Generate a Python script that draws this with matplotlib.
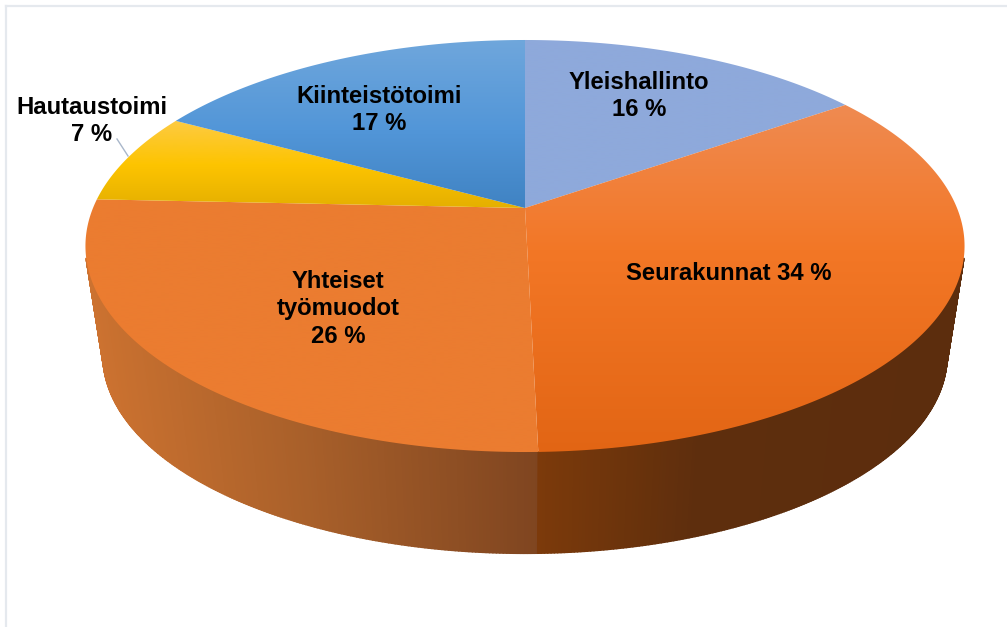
import numpy as np
import matplotlib
matplotlib.use('Agg')
import matplotlib.pyplot as plt
from matplotlib.collections import PolyCollection
from matplotlib.patches import Polygon

plt.rcParams['font.family'] = ['Liberation Sans', 'DejaVu Sans']

# data, clockwise from 12 o'clock
categories = ['Yleishallinto', 'Seurakunnat', 'Yhteiset\ntyömuodot', 'Hautaustoimi', 'Kiinteistötoimi']
values = [15.3, 34.3, 26.1, 7.2, 17.1]
percent_labels = ['16 %', '34 %', '26 %', '7 %', '17 %']

# vertical gradients of the top face: (y pixel, colour)
top_stops = [
    [(40, '#8ea9db'), (210, '#8ea9db')],
    [(105, '#ef8b52'), (250, '#f37726'), (452, '#e26514')],
    [(199, '#eb7c30'), (452, '#eb7c30')],
    [(122, '#fdcb45'), (165, '#fdc400'), (208, '#e3ae00')],
    [(40, '#70a7dc'), (130, '#5296d8'), (208, '#3f82c2')],
]
# horizontal gradients of the side wall: (x pixel, colour)
side_stops = {
    2: [(88, '#cc7230'), (300, '#a9602a'), (538, '#7f4520')],
    1: [(538, '#7c3a0b'), (700, '#5e2e0d'), (965, '#5c2d0d')],
}

cx, top_y, bottom_y = 525, 208, 319
scale_x, scale_y, persp = 432, 199, 0.1845
bottom_scale = 0.96
# only this part of the rim has a visible wall below it
front_from, front_to = np.radians(104), np.radians(256)


def project(theta, r=1.0, s=1.0, y0=top_y):
    u = r * np.sin(theta)
    v = r * np.cos(theta)
    w = 1 + persp * v
    return np.column_stack([cx + s * scale_x * u / w, y0 - s * scale_y * v / w])


def gradient(stops):
    pos = [p for p, c in stops]
    cols = np.array([matplotlib.colors.to_rgb(c) for p, c in stops])
    t = np.linspace(pos[0], pos[-1], 256)
    img = np.stack([np.interp(t, pos, cols[:, i]) for i in range(3)], axis=-1)
    return img[:, np.newaxis, :], pos[0], pos[-1]


fig = plt.figure(figsize=(10.07, 6.27), dpi=100)
ax = fig.add_axes([0, 0, 1, 1])
ax.axis('off')

edges = np.concatenate([[0], np.cumsum(values)]) / np.sum(values) * 2 * np.pi

# side wall, thin strips so the outline follows the tangent between both rims
for i, stops in side_stops.items():
    th = np.linspace(max(edges[i], front_from), min(edges[i + 1], front_to), 200)
    upper = project(th)
    lower = project(th, s=bottom_scale, y0=bottom_y)
    quads = [[upper[j], upper[j + 1], lower[j + 1], lower[j]] for j in range(len(th) - 1)]
    pos = [p for p, c in stops]
    cols = np.array([matplotlib.colors.to_rgb(c) for p, c in stops])
    mid_x = (upper[:-1, 0] + upper[1:, 0]) / 2
    rgb = np.stack([np.interp(mid_x, pos, cols[:, k]) for k in range(3)], axis=-1)
    ax.add_collection(PolyCollection(quads, facecolors=rgb, edgecolors=rgb, linewidths=1.2, zorder=1))

# top face
for i, stops in enumerate(top_stops):
    th = np.linspace(edges[i], edges[i + 1], 200)
    poly = np.vstack([project(np.array([0.0]), r=0.0), project(th)])
    img, a, b = gradient(stops)
    im = ax.imshow(img, extent=(0, 1007, b + 3, a - 3), aspect='auto', interpolation='bilinear', zorder=2)
    patch = Polygon(poly, closed=True, transform=ax.transData, fc='none', ec='none')
    ax.add_patch(patch)
    im.set_clip_path(patch)

# chart frame, only top and left are visible
ax.plot([6, 1007], [6, 6], color='#e5e9ee', lw=1.6, zorder=3)
ax.plot([6, 6], [6, 627], color='#e5e9ee', lw=1.6, zorder=3)

# leader line
ax.plot([117, 128], [139, 156], color='#a9b7ca', lw=1, zorder=3)

label_pos = [(639, 96), (729, 274), (338, 309), (92, 121), (379, 110)]
for i in range(len(categories)):
    sep = ' ' if i == 1 else '\n'
    ax.text(label_pos[i][0], label_pos[i][1], categories[i] + sep + percent_labels[i],
            ha='center', va='center', ma='center', fontsize=17.2, fontweight='bold',
            color='black', linespacing=1.277, zorder=4)

ax.set_xlim(0, 1007)
ax.set_ylim(627, 0)
fig.savefig('out.png', dpi=100)
